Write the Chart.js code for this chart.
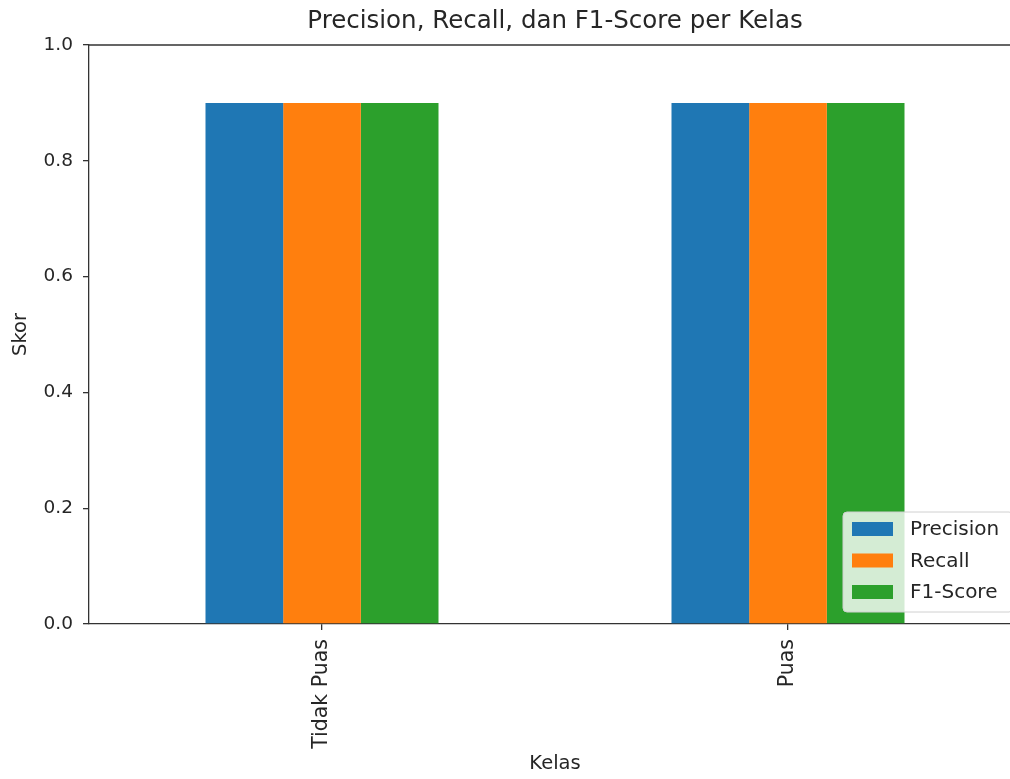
<!DOCTYPE html>
<html>
<head>
<meta charset="utf-8">
<script src="https://cdn.jsdelivr.net/npm/chart.js@4"></script>
<style>
  html, body { margin: 0; padding: 0; background: #fff; overflow: hidden; }
  #wrap { width: 1030px; height: 779px; }
</style>
</head>
<body>
<div id="wrap"><canvas id="chart"></canvas></div>
<script>
const kelas = ['Tidak Puas', 'Puas'];
const precision = [0.9, 0.9];
const recall = [0.9, 0.9];
const f1Score = [0.9, 0.9];
const yTicks = [0.0, 0.2, 0.4, 0.6, 0.8, 1.0];
const judul = 'Precision, Recall, dan F1-Score per Kelas';

const FONT = "'DejaVu Sans', sans-serif";
const TEXT = '#262626';
const SPINE = '#333';

// garis atas dan kanan (spine) seperti matplotlib
const spinePlugin = {
  id: 'spines',
  afterDatasetsDraw(chart) {
    const { ctx, chartArea: a } = chart;
    ctx.save();
    ctx.strokeStyle = SPINE;
    ctx.lineWidth = 1.3;
    ctx.beginPath();
    ctx.moveTo(a.left, a.top);
    ctx.lineTo(a.right, a.top);
    ctx.lineTo(a.right, a.bottom);
    ctx.stroke();
    ctx.restore();
  }
};

// judul di tengah area plot (bukan di tengah kanvas)
const axesTitle = {
  id: 'axesTitle',
  afterDraw(chart) {
    const { ctx, chartArea: a } = chart;
    ctx.save();
    ctx.font = '24.5px ' + FONT;
    ctx.fillStyle = TEXT;
    ctx.textAlign = 'center';
    ctx.textBaseline = 'middle';
    ctx.fillText(judul, (a.left + a.right) / 2, 22);
    ctx.restore();
  }
};

// legenda di dalam area plot, kanan bawah
const innerLegend = {
  id: 'innerLegend',
  afterDraw(chart) {
    const { ctx, chartArea: a } = chart;
    const sets = chart.data.datasets;
    const w = 170, h = 100;
    const x = a.right - 8 - w;
    const y = a.bottom - 12 - h;
    ctx.save();
    ctx.beginPath();
    ctx.roundRect(x, y, w, h, 4);
    ctx.fillStyle = 'rgba(255,255,255,0.8)';
    ctx.fill();
    ctx.strokeStyle = '#d0d0d0';
    ctx.lineWidth = 1;
    ctx.stroke();
    ctx.font = '20px ' + FONT;
    ctx.textBaseline = 'middle';
    sets.forEach((ds, i) => {
      const cy = y + 17 + i * 31.5;
      ctx.fillStyle = ds.backgroundColor;
      ctx.fillRect(x + 9, cy - 7, 41, 14);
      ctx.fillStyle = TEXT;
      ctx.fillText(ds.label, x + 67, cy + 1);
    });
    ctx.restore();
  }
};

new Chart(document.getElementById('chart'), {
  type: 'bar',
  data: {
    labels: kelas,
    datasets: [
      { label: 'Precision', data: precision, backgroundColor: '#1f77b4' },
      { label: 'Recall', data: recall, backgroundColor: '#ff7f0e' },
      { label: 'F1-Score', data: f1Score, backgroundColor: '#2ca02c' }
    ]
  },
  options: {
    responsive: true,
    maintainAspectRatio: false,
    animation: false,
    categoryPercentage: 0.5,
    barPercentage: 1.0,
    layout: { padding: { left: 0, right: 9, top: 45, bottom: 0 } },
    plugins: {
      legend: { display: false },
      tooltip: { enabled: false },
      title: { display: false }
    },
    scales: {
      x: {
        grid: { display: true, drawOnChartArea: false, offset: false, tickLength: 6, color: SPINE, lineWidth: 1.3 },
        border: { display: true, color: SPINE, width: 1.3 },
        ticks: {
          color: TEXT,
          font: { family: FONT, size: 20.5 },
          minRotation: 90,
          maxRotation: 90,
          padding: 9
        },
        title: {
          display: true,
          text: 'Kelas',
          color: TEXT,
          font: { family: FONT, size: 19.5 },
          padding: { top: 4, bottom: 3 }
        },
        afterFit(scale) { scale.height = 155; }
      },
      y: {
        min: 0,
        max: 1,
        afterBuildTicks(scale) { scale.ticks = yTicks.map(v => ({ value: v })); },
        grid: { display: true, drawOnChartArea: false, tickLength: 6, color: SPINE, lineWidth: 1.3 },
        border: { display: true, color: SPINE, width: 1.3 },
        ticks: {
          color: TEXT,
          font: { family: FONT, size: 18.5 },
          padding: 10,
          callback: v => Number(v).toFixed(1)
        },
        title: {
          display: true,
          text: 'Skor',
          color: TEXT,
          font: { family: FONT, size: 19.5 },
          padding: { top: 9, bottom: 0 }
        },
        afterFit(scale) { scale.width = 89; }
      }
    }
  },
  plugins: [spinePlugin, axesTitle, innerLegend]
});
</script>
</body>
</html>
